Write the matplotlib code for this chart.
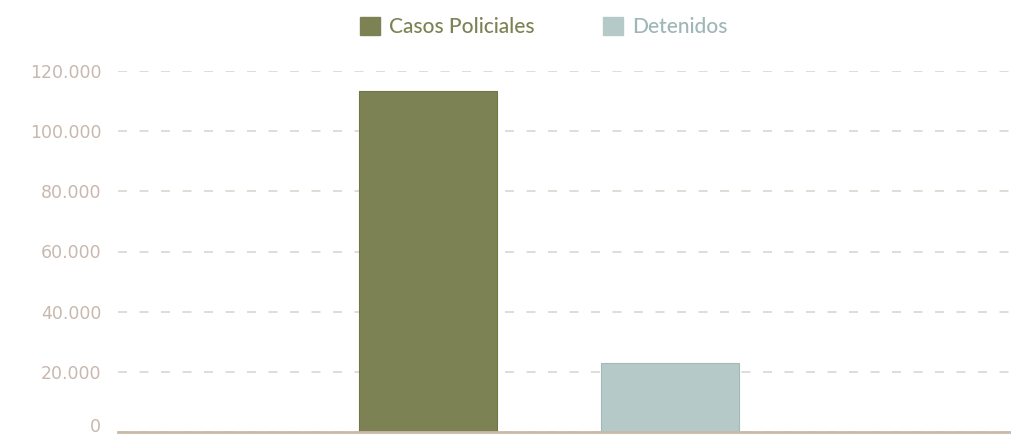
import matplotlib.pyplot as plt
from matplotlib.patches import Patch
from matplotlib.ticker import FuncFormatter
import matplotlib.transforms as mtransforms

series = ['Casos Policiales', 'Detenidos']
values = [113300, 23000]
colors = ['#7d8254', '#b5c9c8']
edge_colors = ['#6f7449', '#a3b8b7']
text_colors = ['#7d8254', '#9fb6b6']
yticks = [0, 20000, 40000, 60000, 80000, 100000, 120000]

fig = plt.figure(figsize=(10.11, 4.34), dpi=100)
ax = fig.add_axes([118 / 1011, 2 / 434, 893 / 1011, 361 / 434])

xpos = [0, 1]
ax.bar(xpos, values, width=0.57, color=colors, edgecolor=edge_colors,
       linewidth=0.8, zorder=3)
ax.set_xlim(-1.281, 2.409)
ax.set_ylim(0, 120000)
ax.set_yticks(yticks)
ax.yaxis.set_major_formatter(FuncFormatter(lambda v, p: f'{int(v):,}'.replace(',', '.')))
ax.set_xticks([])

ax.grid(axis='y', color='#ddd5d0', linestyle=(0, (5.4, 7.5)), linewidth=1.2, zorder=0)
for s in ['top', 'right', 'left']:
    ax.spines[s].set_visible(False)
ax.spines['bottom'].set_color('#c9b9a9')
ax.spines['bottom'].set_linewidth(2)
ax.spines['bottom'].set_zorder(4)
ax.tick_params(axis='y', length=0, pad=12, labelsize=12.5, labelcolor='#c8b8ae')
labels = ax.get_yticklabels()
for lbl in labels:
    lbl.set_family('DejaVu Sans')
# lift the "0" label so it sits fully inside the figure
shift = mtransforms.ScaledTranslation(0, 7 / 100, fig.dpi_scale_trans)
labels[0].set_transform(labels[0].get_transform() + shift)

handles = [Patch(facecolor=c, edgecolor=c) for c in colors]
leg = fig.legend(handles, series, loc='center', bbox_to_anchor=(544 / 1011, 1 - 27 / 434),
                 ncol=2, frameon=False, handlelength=0.95, handleheight=1.0,
                 handletextpad=0.45, columnspacing=3.3,
                 prop={'family': 'Lato', 'size': 15, 'weight': 'medium'})
for t, c in zip(leg.get_texts(), text_colors):
    t.set_color(c)

fig.savefig('out.png', dpi=100)
